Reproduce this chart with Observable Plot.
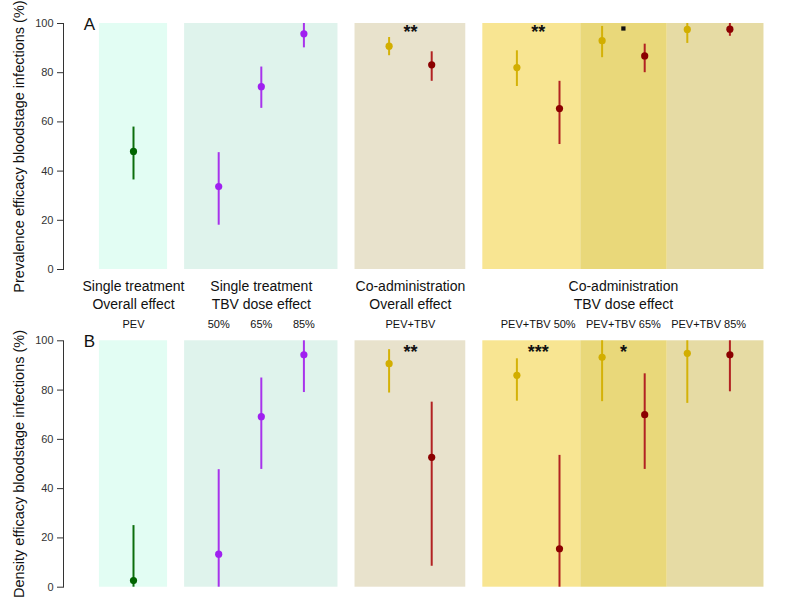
<!DOCTYPE html>
<html>
<head>
<meta charset="utf-8">
<script src="https://cdn.jsdelivr.net/npm/d3@7"></script>
<script src="https://cdn.jsdelivr.net/npm/@observablehq/plot@0.6"></script>
<style>
  body { margin: 0; background: white; }
  #chart svg { display: block; }
</style>
</head>
<body>
<div id="chart"></div>
<script>
// ---- Data ----
// slot = position along the horizontal axis (group slots with gaps between blocks)
const slot = [1, 3, 4, 5, 7, 8, 10, 11, 12, 13, 14, 15];
const series = ["PEV", "TBV", "TBV", "TBV", "PEVco", "TBVco", "PEVco", "TBVco", "PEVco", "TBVco", "PEVco", "TBVco"];

// Panel A: prevalence efficacy (%)
const prevMean = [48.0, 33.7, 74.3, 95.8, 90.8, 83.2, 82.1, 65.4, 93.0, 86.8, 97.6, 97.7];
const prevLo   = [36.4, 18.0, 65.5, 90.1, 86.9, 76.5, 74.4, 50.8, 86.1, 80.0, 91.9, 94.8];
const prevHi   = [57.9, 47.5, 82.3, 100, 94.3, 88.5, 88.9, 76.5, 98.8, 91.6, 100, 100];

// Panel B: density efficacy (%)
const densMean = [2.7, 13.4, 69.2, 94.3, 90.7, 52.7, 86.0, 15.6, 93.3, 70.0, 94.9, 94.3];
const densLo   = [0, 0, 47.8, 79.0, 78.8, 8.5, 75.5, 0, 75.3, 47.8, 74.6, 79.3];
const densHi   = [25.0, 47.7, 84.9, 100, 96.4, 75.1, 92.7, 53.5, 100, 86.6, 100, 100];

// Background blocks
const blockStart = [0.2, 2.2, 6.2, 9.2, 11.5, 13.53];
const blockEnd   = [1.8, 5.8, 8.8, 11.5, 13.53, 15.8];
const blockFill  = ["#e2fdf3", "#dff3ec", "#e8e2cc", "#f8e592", "#e9d87a", "#e6dba4"];

// Labels
const groupLabels = ["Single treatment\nOverall effect", "Single treatment\nTBV dose effect",
                     "Co-administration\nOverall effect", "Co-administration\nTBV dose effect"];
const groupSlot = [1, 4, 7.5, 12.5];
const subLabels = ["PEV", "50%", "65%", "85%", "PEV+TBV", "PEV+TBV 50%", "PEV+TBV 65%", "PEV+TBV 85%"];
const subSlot = [1, 3, 4, 5, 7.5, 10.5, 12.5, 14.5];

// Significance markers
const sigSlotA = [7.5, 10.5];
const sigTextA = ["**", "**"];
const dotSigSlotA = [12.5];      // "." marker (p < 0.1)
const sigSlotB = [7.5, 10.5, 12.5];
const sigTextB = ["**", "***", "*"];

const yTicks = [0, 20, 40, 60, 80, 100];

// Colours per series
const pointColor = {PEV: "#006400", TBV: "#a020f0", PEVco: "#d2ae00", TBVco: "#8b0000"};
const lineColor  = {PEV: "#0c6e0c", TBV: "#a833ec", PEVco: "#d4b208", TBVco: "#b22222"};

// ---- Build tables ----
const blocks = blockStart.map((s, i) => ({x1: s, x2: blockEnd[i], fill: blockFill[i]}));
function rows(mean, lo, hi) {
  return slot.map((s, i) => ({slot: s, s: series[i], mean: mean[i], lo: lo[i], hi: hi[i],
    pc: pointColor[series[i]], lc: lineColor[series[i]]}));
}
const dataA = rows(prevMean, prevLo, prevHi);
const dataB = rows(densMean, densLo, densHi);

const FONT = "'Liberation Sans', Arial, sans-serif";

function panel({data, height, marginTop, marginBottom, letter, ylabel, extra}) {
  return Plot.plot({
    width: 791, height, marginLeft: 63, marginRight: 19, marginTop, marginBottom,
    x: {domain: [0, 16], range: [90.4, 772], axis: null},
    y: {domain: [0, 100], axis: null},
    color: {type: "identity"},
    style: {fontFamily: FONT, background: "white", overflow: "visible"},
    marks: [
      Plot.rect(blocks, {x1: "x1", x2: "x2", y1: 0, y2: 100, fill: "fill"}),
      Plot.axisY({ticks: yTicks, tickSize: 6, tickPadding: 4, fontSize: 11, label: null, color: "#333"}),
      Plot.frame({anchor: "left", stroke: "#333"}),
      Plot.text([ylabel], {text: d => d, frameAnchor: "left", rotate: -90, dx: -44,
        fontSize: 14.5, fill: "#111", textAnchor: "middle", lineAnchor: "middle"}),
      Plot.text([letter], {text: d => d, frameAnchor: "top-left", dx: 26, dy: 1,
        fontSize: 17, fill: "#111", textAnchor: "middle", lineAnchor: "middle"}),
      Plot.ruleX(data, {x: "slot", y1: "lo", y2: "hi", stroke: "lc", strokeWidth: 2}),
      Plot.dot(data, {x: "slot", y: "mean", fill: "pc", r: 3.6}),
      ...extra
    ]
  });
}

const topPanel = panel({
  data: dataA, height: 335, marginTop: 23, marginBottom: 66, letter: "A",
  ylabel: "Prevalence efficacy bloodstage infections (%)",
  extra: [
    Plot.text(sigSlotA, {x: d => d, text: (d, i) => sigTextA[i], frameAnchor: "top", dy: 9,
      fontSize: 18, fontWeight: "bold", fill: "#111", lineAnchor: "middle"}),
    Plot.dot(dotSigSlotA, {x: d => d, frameAnchor: "top", dy: 5, symbol: "square", r: 2.4, fill: "#111"}),
    Plot.text(groupSlot, {x: d => d, text: (d, i) => groupLabels[i], frameAnchor: "bottom", dy: 25,
      fontSize: 14, fill: "#111", lineAnchor: "middle", lineHeight: 1.3}),
    Plot.text(subSlot, {x: d => d, text: (d, i) => subLabels[i], frameAnchor: "bottom", dy: 55,
      fontSize: 11, fill: "#111", lineAnchor: "middle"})
  ]
});

const bottomPanel = panel({
  data: dataB, height: 275, marginTop: 5.3, marginBottom: 23.3, letter: "B",
  ylabel: "Density efficacy bloodstage infections (%)",
  extra: [
    Plot.text(sigSlotB, {x: d => d, text: (d, i) => sigTextB[i], frameAnchor: "top", dy: 11,
      fontSize: 18, fontWeight: "bold", fill: "#111", lineAnchor: "middle"})
  ]
});

const el = document.getElementById("chart");
el.appendChild(topPanel);
el.appendChild(bottomPanel);
</script>
</body>
</html>
